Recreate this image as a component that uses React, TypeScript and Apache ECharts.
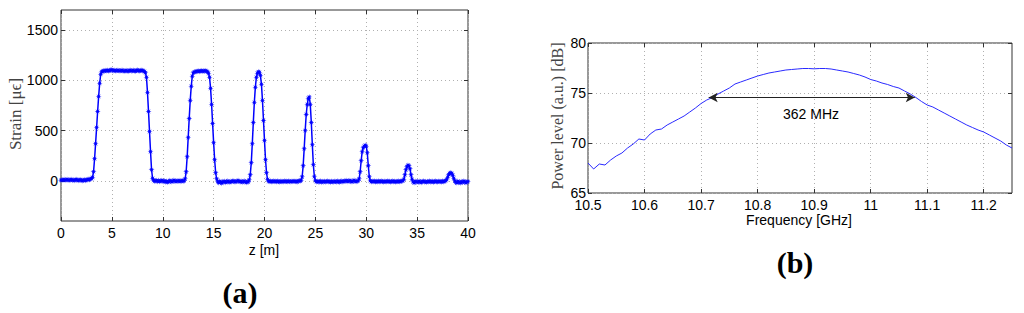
import React, { useEffect, useRef } from 'react';
import * as echarts from 'echarts';

// ---------- Panel (a): strain vs distance ----------
const Z_START = 0;
const Z_STEP = 0.1;
const strainValues: number[] = [
  // 0.0 - 0.9
  5, 10, 8, 12, 6, 10, 14, 8, 5, 10,
  // 1.0 - 1.9
  12, 6, 9, 4, 10, 13, 7, 2, 8, 11,
  // 2.0 - 2.9
  6, 0, 5, 10, 4, 8, 12, 15, 10, 18,
  // 3.0 - 3.9
  22, 35, 90, 220, 370, 530, 690, 840, 970, 1060,
  // 4.0 - 4.9
  1085, 1090, 1095, 1092, 1098, 1095, 1100, 1094, 1097, 1102,
  // 5.0 - 5.9
  1105, 1098, 1095, 1100, 1093, 1097, 1101, 1096, 1092, 1098,
  // 6.0 - 6.9
  1100, 1095, 1090, 1096, 1099, 1094, 1090, 1097, 1100, 1093,
  // 7.0 - 7.9
  1096, 1100, 1094, 1091, 1098, 1102, 1096, 1093, 1097, 1100,
  // 8.0 - 8.9
  1097, 1093, 1088, 1075, 1030, 880, 690, 490, 290, 110,
  // 9.0 - 9.9
  25, 5, -5, 0, 3, -8, 2, -6, -3, 4,
  // 10.0 - 10.9
  -2, -8, 0, -12, -5, -15, -8, 2, -4, -10,
  // 11.0 - 11.9
  -3, 5, -2, -8, 0, -4, 3, -6, -1, 2,
  // 12.0 - 12.9
  -5, 0, 20, 90, 240, 430, 620, 800, 940, 1040,
  // 13.0 - 13.9
  1075, 1082, 1085, 1088, 1090, 1092, 1089, 1093, 1095, 1090,
  // 14.0 - 14.9
  1094, 1092, 1096, 1090, 1085, 1070, 1030, 920, 760, 570,
  // 15.0 - 15.9
  380, 210, 80, 20, -10, -20, -5, -15, -25, -8,
  // 16.0 - 16.9
  -12, -5, -18, -8, -2, -10, -14, -6, -9, 0,
  // 17.0 - 17.9
  -4, -12, -8, -2, 3, -6, -10, -4, -14, -8,
  // 18.0 - 18.9
  -2, -10, -18, -6, -12, 10, 60, 180, 370, 580,
  // 19.0 - 19.9
  780, 930, 1030, 1070, 1085, 1080, 1050, 960, 800, 600,
  // 20.0 - 20.9
  400, 210, 80, 15, -5, -8, -3, -10, -6, -2,
  // 21.0 - 21.9
  -8, -5, -10, -3, -7, -12, -4, -8, -6, -9,
  // 22.0 - 22.9
  -3, -8, -5, -10, -2, -6, -9, -4, -7, -3,
  // 23.0 - 23.9
  -8, -5, -12, -2, 0, -3, 5, 40, 150, 320,
  // 24.0 - 24.9
  500, 660, 760, 820, 835, 760, 580, 360, 160, 40,
  // 25.0 - 25.9
  0, -10, -5, -12, -8, -3, -15, -6, -10, -4,
  // 26.0 - 26.9
  -12, -8, -2, -10, -6, -14, -4, -9, -11, -5,
  // 27.0 - 27.9
  -7, -12, -3, -8, -15, -5, -2, -9, -6, 0,
  // 28.0 - 28.9
  -4, 2, -8, -3, 4, -6, -10, -2, 5, -5,
  // 29.0 - 29.9
  -8, -4, 0, 20, 90, 200, 290, 330, 345, 355,
  // 30.0 - 30.9
  345, 280, 150, 40, 0, -10, -4, -8, -2, -12,
  // 31.0 - 31.9
  -5, -9, -3, -10, -6, -1, -8, -12, -4, -7,
  // 32.0 - 32.9
  -10, -3, -8, -5, -12, -6, -2, -9, -4, -11,
  // 33.0 - 33.9
  -6, -8, -3, -10, -5, -2, 0, 15, 60, 110,
  // 34.0 - 34.9
  140, 155, 150, 120, 60, 15, -10, -20, -5, -12,
  // 35.0 - 35.9
  -8, -15, -4, -10, -18, -6, -2, -12, -8, -14,
  // 36.0 - 36.9
  -6, -10, -3, -12, -8, -5, -14, -7, -2, -9,
  // 37.0 - 37.9
  -11, -4, -8, -6, -12, -3, -9, -5, 0, 10,
  // 38.0 - 38.9
  35, 60, 75, 80, 75, 55, 25, 0, -15, -20,
  // 39.0 - 39.9
  -5, -18, -10, -22, -8, -15, -3, -12, -20, -10,
  // 40.0
  -8,
];
const zTicks = [0, 5, 10, 15, 20, 25, 30, 35, 40];
const strainTicks = [0, 500, 1000, 1500];

// ---------- Panel (b): power spectrum ----------
const FREQ_START = 10.5;
const FREQ_STEP = 0.01;
const powerValues: number[] = [
  68.0, 67.4, 67.9, 67.8, 68.3, 68.7, 69.0, 69.5, 69.9, 70.4,
  70.3, 70.9, 71.3, 71.4, 71.8, 72.1, 72.4, 72.7, 73.1, 73.5,
  73.95, 74.3, 74.55, 74.9, 75.2, 75.5, 75.9, 76.1, 76.3, 76.5,
  76.7, 76.85, 77.0, 77.1, 77.2, 77.3, 77.35, 77.4, 77.45, 77.45,
  77.42, 77.45, 77.45, 77.4, 77.3, 77.2, 77.1, 76.95, 76.8, 76.6,
  76.35, 76.2, 76.0, 75.85, 75.65, 75.5, 75.2, 74.9, 74.55, 74.15,
  73.8, 73.6, 73.3, 73.0, 72.7, 72.4, 72.1, 71.8, 71.55, 71.3,
  71.1, 70.8, 70.5, 70.2, 69.8, 69.5,
];
const freqTicks = [10.5, 10.6, 10.7, 10.8, 10.9, 11.0, 11.1, 11.2];
const powerTicks = [65, 70, 75, 80];
const bandStart = 10.7135;
const bandEnd = 11.078;
const bandLevel = 74.55;
const bandLabel = '362 MHz';

// asterisk-like marker
function starPath(): string {
  const pts: string[] = [];
  for (let i = 0; i < 16; i++) {
    const r = i % 2 === 0 ? 10 : 3.6;
    const a = (i * Math.PI) / 8;
    pts.push(`${(10 + r * Math.cos(a)).toFixed(2)},${(10 + r * Math.sin(a)).toFixed(2)}`);
  }
  return 'path://M' + pts.join('L') + 'Z';
}

const tickFont = { fontFamily: 'Liberation Sans, Arial, sans-serif', fontSize: 14, color: '#000' };
const gridLine = { show: true, lineStyle: { color: '#b0b0b0', width: 1, type: [1, 3] as number[] } };
const tickStyle = { show: true, inside: true, length: 4, lineStyle: { color: '#333' } };
const plain = (v: number) => String(+v.toFixed(2));

function App() {
  const ref = useRef<HTMLDivElement>(null);
  useEffect(() => {
    document.body.style.margin = '0';
    if (!ref.current) return;
    const chart = echarts.init(ref.current, undefined, { renderer: 'svg' });

    const strainData = strainValues.map((v, i) => [+(Z_START + i * Z_STEP).toFixed(2), v]);
    const powerData = powerValues.map((v, i) => [+(FREQ_START + i * FREQ_STEP).toFixed(3), v]);

    const boxAxis = (extra: any, ticks: number[]) => ({
      axisLine: { show: false, onZero: false },
      axisTick: { ...tickStyle, customValues: ticks },
      axisLabel: { show: false },
      splitLine: { show: false },
      ...extra,
    });

    chart.setOption({
      animation: false,
      backgroundColor: '#fff',
      grid: [
        { left: 61, top: 10, width: 407, height: 211, show: true, borderColor: '#333', borderWidth: 1, backgroundColor: 'transparent' },
        { left: 588, top: 43, width: 424, height: 150, show: true, borderColor: '#333', borderWidth: 1, backgroundColor: 'transparent' },
      ],
      xAxis: [
        {
          type: 'value', gridIndex: 0, min: 0, max: 40, interval: 5,
          axisLine: { show: false, onZero: false },
          axisTick: { ...tickStyle, customValues: zTicks },
          axisLabel: { ...tickFont, margin: 5, customValues: zTicks, formatter: plain },
          splitLine: gridLine,
        },
        {
          type: 'value', gridIndex: 1, min: 10.5, max: 11.25, interval: 0.1,
          axisLine: { show: false, onZero: false },
          axisTick: { ...tickStyle, customValues: freqTicks },
          axisLabel: { ...tickFont, margin: 5, customValues: freqTicks, formatter: plain },
          splitLine: gridLine,
        },
        boxAxis({ type: 'value', gridIndex: 0, position: 'top', min: 0, max: 40, interval: 5 }, zTicks),
        boxAxis({ type: 'value', gridIndex: 1, position: 'top', min: 10.5, max: 11.25, interval: 0.1 }, freqTicks),
      ],
      yAxis: [
        {
          type: 'value', gridIndex: 0, min: -400, max: 1700,
          axisLine: { show: false, onZero: false },
          axisTick: { ...tickStyle, customValues: strainTicks },
          axisLabel: { ...tickFont, margin: 3, customValues: strainTicks, formatter: plain },
          splitLine: gridLine,
        },
        {
          type: 'value', gridIndex: 1, min: 65, max: 80, interval: 5,
          axisLine: { show: false, onZero: false },
          axisTick: { ...tickStyle, customValues: powerTicks },
          axisLabel: { ...tickFont, margin: 2, customValues: powerTicks, formatter: plain },
          splitLine: gridLine,
        },
        boxAxis({ type: 'value', gridIndex: 0, position: 'right', min: -400, max: 1700 }, strainTicks),
        boxAxis({ type: 'value', gridIndex: 1, position: 'right', min: 65, max: 80, interval: 5 }, powerTicks),
      ],
      series: [
        {
          type: 'line', xAxisIndex: 0, yAxisIndex: 0, data: strainData,
          symbol: starPath(), symbolSize: 6, showAllSymbol: true,
          lineStyle: { color: '#0000ff', width: 1.5 },
          itemStyle: { color: '#0000ff' },
          silent: true,
        },
        {
          type: 'line', xAxisIndex: 1, yAxisIndex: 1, data: powerData,
          showSymbol: false,
          lineStyle: { color: '#2a2aff', width: 1 },
          silent: true,
          markLine: {
            silent: true,
            symbol: ['arrow', 'arrow'],
            symbolSize: [7, 9],
            lineStyle: { color: '#222', width: 1, type: 'solid' },
            label: { show: false },
            data: [[{ coord: [bandStart, bandLevel] }, { coord: [bandEnd, bandLevel] }]],
          },
        },
      ],
      graphic: [
        { type: 'text', x: 15, y: 114, rotation: Math.PI / 2,
          style: { text: 'Strain [μϵ]', font: '17px "Liberation Serif", serif', fill: '#444', align: 'center', verticalAlign: 'middle' } },
        { type: 'text', x: 264, y: 250,
          style: { text: 'z [m]', font: '14px "Liberation Sans", Arial, sans-serif', fill: '#000', align: 'center', verticalAlign: 'middle' } },
        { type: 'text', x: 240, y: 292,
          style: { text: '(a)', font: 'bold 30px "Liberation Serif", serif', fill: '#000', align: 'center', verticalAlign: 'middle' } },
        { type: 'text', x: 557, y: 116, rotation: Math.PI / 2,
          style: { text: 'Power level (a.u.) [dB]', font: '16px "Liberation Serif", serif', fill: '#444', align: 'center', verticalAlign: 'middle' } },
        { type: 'text', x: 799, y: 220,
          style: { text: 'Frequency [GHz]', font: '14px "Liberation Sans", Arial, sans-serif', fill: '#000', align: 'center', verticalAlign: 'middle' } },
        { type: 'text', x: 811, y: 114,
          style: { text: bandLabel, font: '14px "Liberation Sans", Arial, sans-serif', fill: '#000', align: 'center', verticalAlign: 'middle' } },
        { type: 'text', x: 795, y: 262,
          style: { text: '(b)', font: 'bold 30px "Liberation Serif", serif', fill: '#000', align: 'center', verticalAlign: 'middle' } },
      ],
    });
    return () => chart.dispose();
  }, []);
  return <div ref={ref} style={{ width: 1024, height: 313 }} />;
}

export default App;
